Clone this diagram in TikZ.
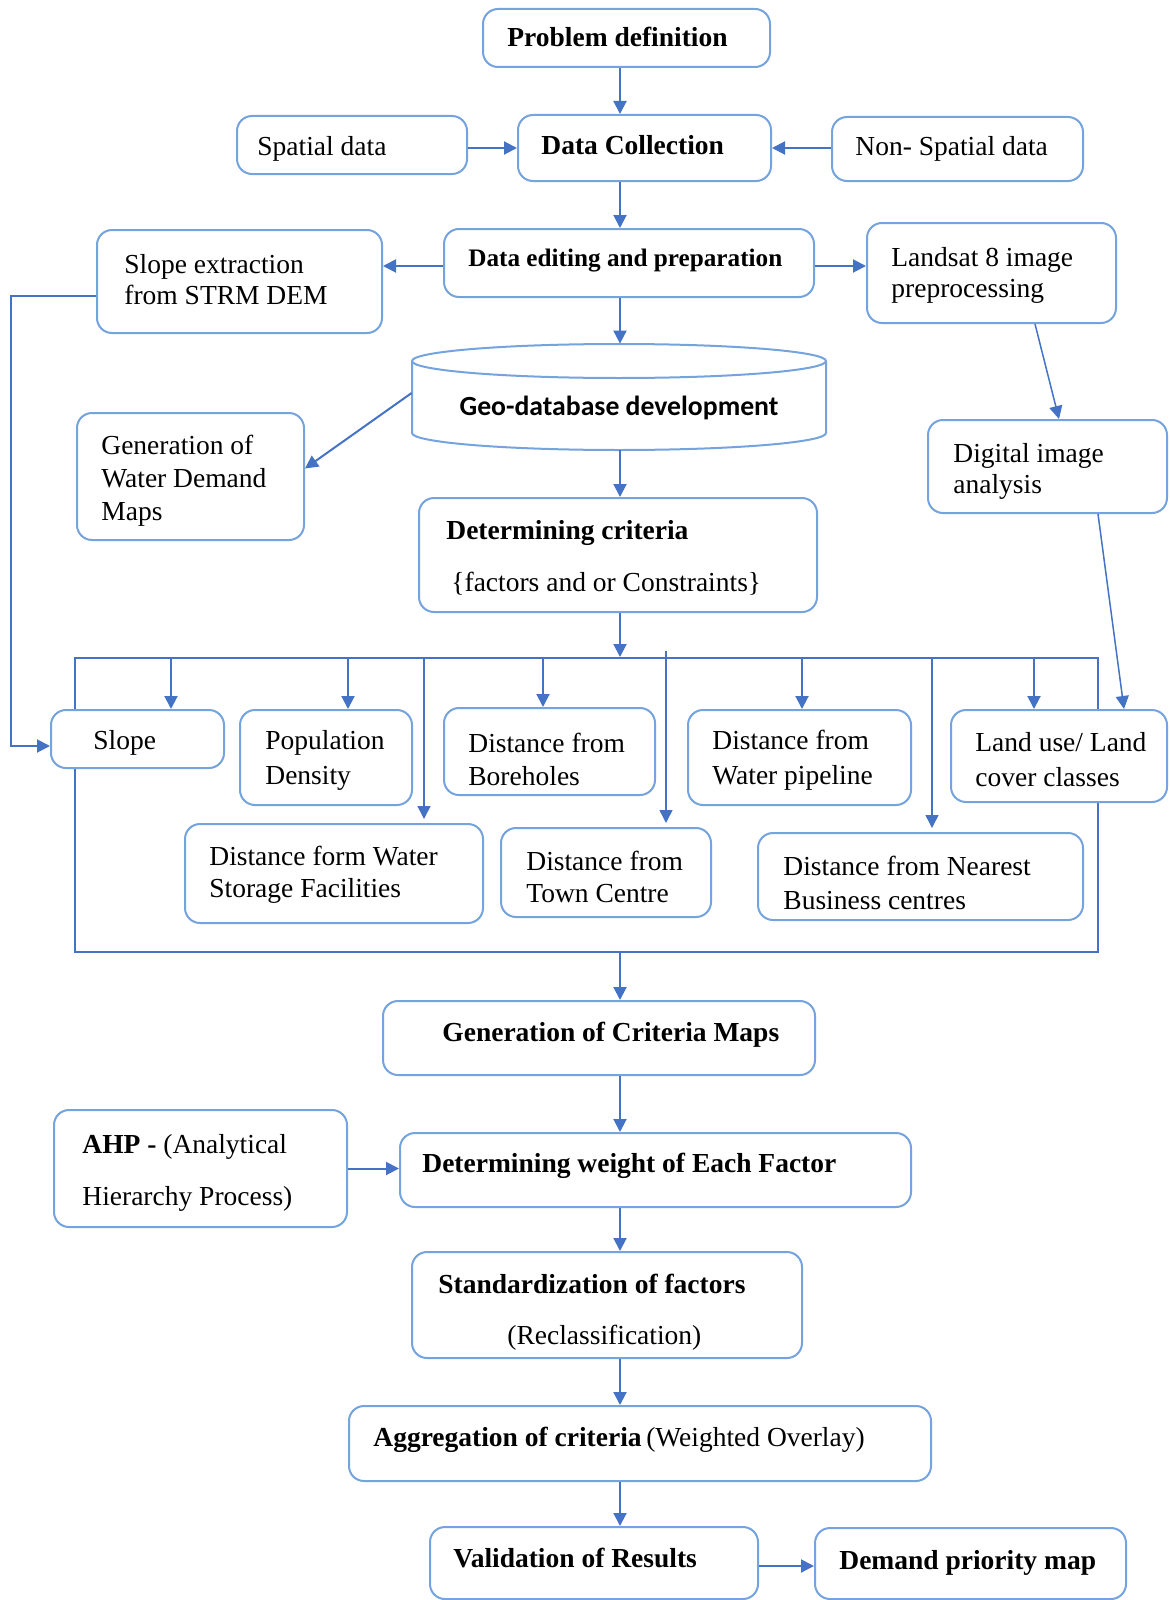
\documentclass[tikz,border=0pt]{standalone}
\usepackage{fontspec}
\setmainfont{Liberation Serif}
\newfontfamily\carl{Carlito}
\usetikzlibrary{arrows.meta,fit}
\definecolor{ablue}{RGB}{68,114,196}
\definecolor{bblue}{RGB}{116,163,222}
\begin{document}
\begin{tikzpicture}[x=0.5pt,y=-0.5pt,
  box/.style={draw=bblue, line width=1pt, rounded corners=7.5pt, fill=white, inner sep=0pt},
  arr/.style={draw=ablue, line width=1pt, -{Triangle[length=6.5pt,width=6.5pt]}},
  tarr/.style={draw=ablue, line width=0.75pt, -{Triangle[length=6.5pt,width=6.5pt]}},
  frameline/.style={draw=ablue, line width=1pt, inner sep=0pt},
  txt/.style={anchor=west, inner sep=0pt, align=left, yshift=-1.5pt, font=\fontsize{13.75}{16.5}\selectfont},
  txtone/.style={txt, yshift=-1pt, text height=0.68em, text depth=0.2em},
  lsp/.style={font=\fontsize{13.75}{#1}\selectfont}
]
\useasboundingbox (0,0) rectangle (1169,1600);

% helper x positions
\coordinate (spine) at (620,0);
\coordinate (c1) at (171,0);
\coordinate (c2) at (348,0);
\coordinate (c3) at (424,0);
\coordinate (c4) at (543,0);
\coordinate (c5) at (666,0);
\coordinate (c6) at (802,0);
\coordinate (c7) at (932,0);
\coordinate (c8) at (1034,0);
\coordinate (elb) at (11,740);

% frame around criteria
\node[frameline, draw, fit={(75,658) (1098,952)}] (frame) {};

% boxes
\node[box, fit={(483,9) (770,67)}] (pd) {};
\node[box, fit={(237,116) (467,174)}] (sd) {};
\node[box, fit={(518,115) (771,181)}] (dc) {};
\node[box, fit={(832,117) (1083,181)}] (nsd) {};
\node[box, fit={(444,229) (814,297)}] (dep) {};
\node[box, fit={(97,230) (382,333)}] (se) {};
\node[box, fit={(867,223) (1116,323)}] (ls) {};
\node[inner sep=0pt, fit={(412,344) (826,450)}] (geo) {};
\node[box, fit={(77,413) (304,540)}] (gwd) {};
\node[box, fit={(928,420) (1167,513)}] (dia) {};
\node[box, fit={(419,498) (817,612)}] (dcrit) {};
\node[box, fit={(51,710) (224,768)}] (slope) {};
\node[box, fit={(240,710) (412,805)}] (pop) {};
\node[box, fit={(444,708) (655,795)}] (bh) {};
\node[box, fit={(688,710) (911,805)}] (wp) {};
\node[box, fit={(951,710) (1167,802)}] (lu) {};
\node[box, fit={(185,824) (483,923)}] (ws) {};
\node[box, fit={(501,828) (711,917)}] (tc) {};
\node[box, fit={(758,833) (1083,920)}] (nb) {};
\node[box, fit={(383,1001) (815,1075)}] (gcm) {};
\node[box, fit={(54,1110) (347,1227)}] (ahp) {};
\node[box, fit={(400,1133) (911,1207)}] (dw) {};
\node[box, fit={(412,1252) (802,1358)}] (std) {};
\node[box, fit={(349,1406) (931,1481)}] (agg) {};
\node[box, fit={(430,1527) (758,1599)}] (val) {};
\node[box, fit={(815,1528) (1126,1599)}] (dpm) {};

% cylinder
\draw[draw=bblue, line width=1pt, fill=white]
  (412,361) -- (412,433) arc[start angle=180, end angle=360, x radius=103.5pt, y radius=8.5pt] -- (826,361);
\draw[draw=bblue, line width=1pt, fill=white] (619,361) ellipse [x radius=103.5pt, y radius=8.5pt];

% texts
\node[txtone, font=\bfseries\fontsize{13.75}{16.5}\selectfont] (tpd) at (507,37) {Problem definition};
\node[txtone] (tsd) at (257,146) {Spatial data};
\node[txtone, font=\bfseries\fontsize{13.75}{16.5}\selectfont] (tdc) at (541,145) {Data Collection};
\node[txtone] (tnsd) at (855,146) {Non- Spatial data};
\node[txtone, font=\bfseries\fontsize{12.6}{16.5}\selectfont] (tdep) at (468,257) {Data editing and preparation};
\node[txt, lsp=15.5pt] (tse) at (124,277) {Slope extraction\\from STRM DEM};
\node[txt, lsp=15.5pt] (tls) at (891,272) {Landsat 8 image\\preprocessing};
\node[inner sep=0pt, font=\carl\bfseries\fontsize{13.85}{16}\selectfont] (tgeo) at (619,408) {Geo-database development};
\node[txt, lsp=16.5pt] (tgwd) at (101,478) {Generation of\\Water Demand\\Maps};
\node[txt, lsp=15.5pt] (tdia) at (953,468) {Digital image\\analysis};
\node[txtone, font=\bfseries\fontsize{13.75}{16.5}\selectfont] (tdcrit) at (446,530) {Determining criteria};
\node[txtone] (tfac) at (451,582) {\{factors and or Constraints\}};
\node[txtone] (tslope) at (93,740) {Slope};
\node[txt, lsp=17.5pt] (tpop) at (265,757) {Population\\Density};
\node[txt, lsp=16.5pt] (tbh) at (468,756) {Distance from\\Boreholes};
\node[txt, lsp=17.5pt] (twp) at (712,757) {Distance from\\Water pipeline};
\node[txt, lsp=17.5pt] (tlu) at (975,757) {Land use/ Land\\cover classes};
\node[txt, lsp=16pt] (tws) at (209,872) {Distance form Water\\Storage Facilities};
\node[txt, lsp=16pt] (ttc) at (526,874) {Distance from\\Town Centre};
\node[txt, lsp=17pt] (tnb) at (783,880) {Distance from Nearest\\Business centres};
\node[txtone, font=\bfseries\fontsize{13.75}{16.5}\selectfont] (tgcm) at (442,1032) {Generation of Criteria Maps};
\node[txt, lsp=26pt] (tahp) at (82,1170) {\textbf{AHP -} (Analytical\\Hierarchy Process)};
\node[txtone, font=\bfseries\fontsize{13.75}{16.5}\selectfont] (tdw) at (422,1163) {Determining weight of Each Factor};
\node[txtone, font=\bfseries\fontsize{13.75}{16.5}\selectfont] (tstd) at (438,1284) {Standardization of factors};
\node[txtone] (trec) at (507,1335) {(Reclassification)};
\node[txtone] (tagg) at (373,1437) {\textbf{Aggregation of criteria}\,(Weighted Overlay)};
\node[txtone, font=\bfseries\fontsize{13.75}{16.5}\selectfont] (tval) at (453,1558) {Validation of Results};
\node[txtone, font=\bfseries\fontsize{13.75}{16.5}\selectfont] (tdpm) at (839,1560) {Demand priority map};

% connectors
\draw[arr] (pd.south -| spine) -- (dc.north -| spine);
\draw[arr] (dc.west -| sd.east) -- (dc.west);
\draw[arr] (dc.east -| nsd.west) -- (dc.east);
\draw[arr] (dc.south -| spine) -- (dep.north -| spine);
\draw[arr] ([yshift=-1.5pt]dep.west) -- ([yshift=-1.5pt]dep.west -| se.east);
\draw[arr] ([yshift=-1.5pt]dep.east) -- ([yshift=-1.5pt]dep.east -| ls.west);
\draw[arr] (dep.south -| spine) -- (geo.north -| spine);
\draw[arr] ([yshift=2pt]geo.west) -- ([yshift=4pt]gwd.east);
\draw[tarr] ([xshift=21.75pt]ls.south) -- ([xshift=5.75pt]dia.north);
\draw[tarr] ([xshift=25.25pt]dia.south) -- ([xshift=32.5pt]lu.north);
\draw[arr] (geo.south -| spine) -- (dcrit.north -| spine);
\draw[arr] (dcrit.south -| spine) -- (frame.north -| spine);
\draw[arr] (frame.north -| c1) -- (slope.north -| c1);
\draw[arr] (frame.north -| c2) -- (pop.north -| c2);
\draw[tarr] (frame.north -| c3) -- ([yshift=2pt]ws.north -| c3);
\draw[arr] (frame.north -| c4) -- (bh.north -| c4);
\draw[tarr] ([yshift=3pt]frame.north -| c5) -- ([yshift=2pt]tc.north -| c5);
\draw[arr] (frame.north -| c6) -- (wp.north -| c6);
\draw[tarr] (frame.north -| c7) -- ([yshift=2pt]nb.north -| c7);
\draw[arr] (frame.north -| c8) -- (lu.north -| c8);
\draw[arr] ([yshift=-7.25pt]se.west) -| (elb) |- ([yshift=-3.5pt]slope.west);
\draw[arr] (frame.south -| spine) -- (gcm.north -| spine);
\draw[arr] (gcm.south -| spine) -- (dw.north -| spine);
\draw[arr] (ahp.east) -- (ahp.east -| dw.west);
\draw[arr] (dw.south -| spine) -- (std.north -| spine);
\draw[arr] (std.south -| spine) -- (agg.north -| spine);
\draw[arr] (agg.south -| spine) -- (val.north -| spine);
\draw[arr] ([yshift=-1.5pt]val.east) -- ([yshift=-1.5pt]val.east -| dpm.west);
\end{tikzpicture}
\end{document}
